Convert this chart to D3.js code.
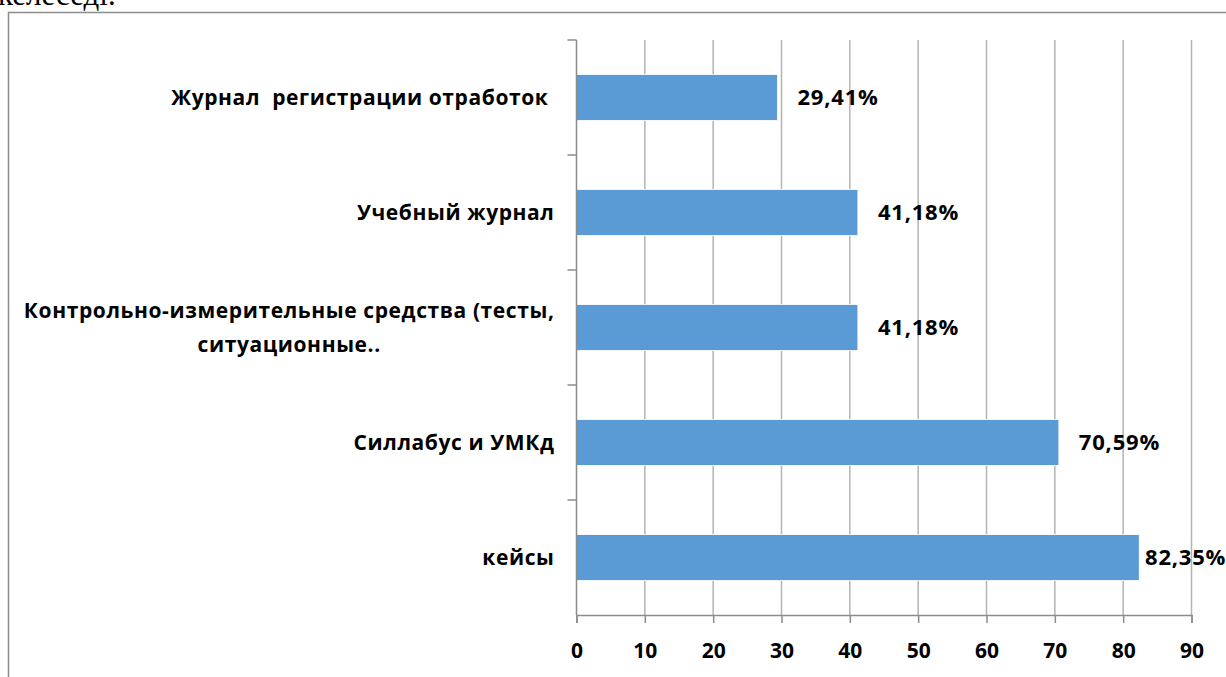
<!DOCTYPE html>
<html lang="ru">
<head>
  <meta charset="UTF-8">
  <title>chart</title>
  <script src="https://d3js.org/d3.v7.min.js"></script>
  <style>
    body { margin: 0; background: #fff; }
    svg { display: block; }
  </style>
</head>
<body>
  <svg id="chart" width="1226" height="677"></svg>

  <script>
    // categories, top to bottom ("|" marks a line break)
    const categories = [
      "Журнал  регистрации отработок ",
      "Учебный журнал",
      "Контрольно-измерительные средства (тесты,|ситуационные..",
      "Силлабус и УМКд",
      "кейсы"
    ];
    const values = [29.41, 41.18, 41.18, 70.59, 82.35];
    const valueLabels = ["29,41%", "41,18%", "41,18%", "70,59%", "82,35%"];
    const xTicks = [0, 10, 20, 30, 40, 50, 60, 70, 80, 90];

    const W = 1226, H = 677;
    const margin = { left: 576.5, right: 34.5, top: 40, bottom: 62 };
    const font = "'Open Sans', Lato, sans-serif";

    const svg = d3.select("#chart");

    // the bit of text above the chart (cut off by the screenshot)
    svg.append("text")
      .attr("x", -2).attr("y", 5)
      .attr("font-family", "'Liberation Serif', 'Times New Roman', serif")
      .attr("font-size", 31)
      .attr("fill", "#000")
      .text("келеседі.");

    // chart frame
    svg.append("rect")
      .attr("x", 8.5).attr("y", 12.5)
      .attr("width", W + 20).attr("height", H)
      .attr("fill", "none")
      .attr("stroke", "#8c8c8c")
      .attr("stroke-width", 1.5);

    const x = d3.scaleLinear().domain([0, 90]).range([margin.left, W - margin.right]);
    const y = d3.scaleBand().domain(categories).range([margin.top, H - margin.bottom]).paddingInner(0.6).paddingOuter(0.3);
    const yBand = d3.scaleBand().domain(categories).range([margin.top, H - margin.bottom]);

    // vertical gridlines
    svg.append("g")
      .selectAll("line")
      .data(xTicks.slice(1))
      .join("line")
      .attr("x1", d => x(d)).attr("x2", d => x(d))
      .attr("y1", margin.top).attr("y2", H - margin.bottom)
      .attr("stroke", "#b3b3b3")
      .attr("stroke-width", 1.5);

    // bars
    svg.append("g")
      .selectAll("rect")
      .data(values)
      .join("rect")
      .attr("x", x(0))
      .attr("y", (d, i) => y(categories[i]))
      .attr("width", d => x(d) - x(0))
      .attr("height", y.bandwidth())
      .attr("fill", "#5b9bd5")
      .attr("stroke", "#ffffff")
      .attr("stroke-width", 0.8);

    // value labels
    svg.append("g")
      .selectAll("text")
      .data(values)
      .join("text")
      .attr("x", d => Math.min(x(d) + 20, W - 81))
      .attr("y", (d, i) => y(categories[i]) + y.bandwidth() / 2)
      .attr("dy", "0.36em")
      .attr("font-family", font)
      .attr("font-weight", "bold")
      .attr("font-size", 22)
      .attr("letter-spacing", 0.8)
      .attr("fill", "#000")
      .text((d, i) => valueLabels[i]);

    // x axis
    const xAxis = svg.append("g")
      .attr("transform", `translate(0,${H - margin.bottom})`)
      .call(d3.axisBottom(x).tickValues(xTicks).tickSize(8).tickPadding(20).tickFormat(d3.format("d")));
    xAxis.select(".domain").attr("stroke", "#8c8c8c").attr("stroke-width", 1.5);
    xAxis.selectAll(".tick line").attr("stroke", "#8c8c8c").attr("stroke-width", 1.5);
    xAxis.selectAll(".tick text")
      .attr("font-family", font)
      .attr("font-weight", "bold")
      .attr("font-size", 21)
      .attr("fill", "#000");

    // y axis line with ticks between categories
    const yAxis = svg.append("g");
    yAxis.append("line")
      .attr("x1", x(0)).attr("x2", x(0))
      .attr("y1", margin.top).attr("y2", H - margin.bottom)
      .attr("stroke", "#8c8c8c").attr("stroke-width", 1.5);
    yAxis.selectAll("line.tk")
      .data(categories)
      .join("line")
      .attr("class", "tk")
      .attr("x1", x(0) - 9).attr("x2", x(0))
      .attr("y1", d => yBand(d)).attr("y2", d => yBand(d))
      .attr("stroke", "#8c8c8c").attr("stroke-width", 1.5);

    // category labels, centred lines, block right-aligned
    const labelRight = x(0) - 22;
    categories.forEach(c => {
      const lines = c.split("|");
      const cy = yBand(c) + yBand.bandwidth() / 2;
      const lh = 34;
      const g = svg.append("g");
      const texts = lines.map((ln, j) => g.append("text")
        .attr("y", cy + (j - (lines.length - 1) / 2) * lh)
        .attr("dy", "0.36em")
        .attr("font-family", font)
        .attr("font-weight", "bold")
        .attr("font-size", 21)
        .attr("letter-spacing", 0.6)
        .attr("fill", "#000")
        .attr("xml:space", "preserve")
        .style("white-space", "pre")
        .text(ln));
      const widest = d3.max(texts, t => t.node().getComputedTextLength());
      texts.forEach(t => t.attr("text-anchor", "middle").attr("x", labelRight - widest / 2));
    });
  </script>
</body>
</html>
